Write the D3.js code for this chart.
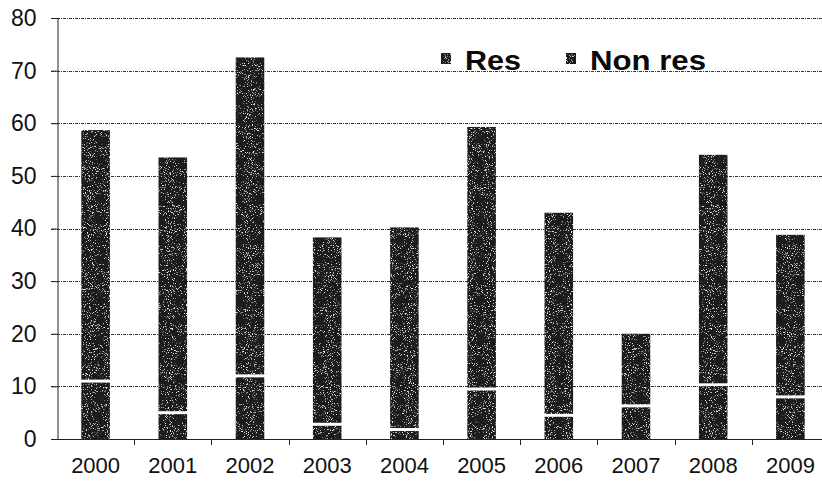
<!DOCTYPE html>
<html>
<head>
<meta charset="utf-8">
<script src="https://cdn.jsdelivr.net/npm/d3@7/dist/d3.min.js"></script>
<style>
  html, body { margin: 0; padding: 0; background: #fff; }
  svg { display: block; font-family: "Liberation Sans", Arial, sans-serif; }
</style>
</head>
<body>
<svg id="chart" width="822" height="492"></svg>
<script>
// Yearly counts, split into residential and non-residential
const years = ["2000", "2001", "2002", "2003", "2004", "2005", "2006", "2007", "2008", "2009"];
const res    = [11.0, 5.0, 12.0, 2.8, 1.8, 9.5, 4.5, 6.3, 10.3, 8.0];
const nonRes = [47.7, 48.5, 60.5, 35.5, 38.4, 49.8, 38.5, 13.7, 43.7, 30.8];
const seriesNames = ["Res", "Non res"];
const yTicks = [0, 10, 20, 30, 40, 50, 60, 70, 80];

const W = 822, H = 492;
const m = { left: 57, top: 18, bottom: 53 };
const svg = d3.select("#chart");

// Speckled dark fill for the bars
const defs = svg.append("defs");
const f = defs.append("filter").attr("id", "grain")
  .attr("x", 0).attr("y", 0).attr("width", 1).attr("height", 1);
f.append("feTurbulence").attr("type", "fractalNoise")
  .attr("baseFrequency", 0.95).attr("numOctaves", 2).attr("seed", 7).attr("result", "noise");
f.append("feColorMatrix").attr("in", "noise").attr("type", "matrix")
  .attr("values", "0 0 0 0 0.85  0 0 0 0 0.85  0 0 0 0 0.85  7 0 0 0 -4.25").attr("result", "specks");
f.append("feComposite").attr("in", "specks").attr("in2", "SourceGraphic").attr("operator", "atop");

const x = d3.scaleBand().domain(years).range([m.left, m.left + 772]).paddingInner(0.63).paddingOuter(0.315);
const y = d3.scaleLinear().domain([0, 80]).range([H - m.bottom, m.top]);

// Dotted horizontal gridlines
svg.append("g").selectAll("line").data(yTicks).join("line")
  .attr("x1", m.left - 6).attr("x2", W)
  .attr("y1", d => Math.round(y(d)) + 0.5).attr("y2", d => Math.round(y(d)) + 0.5)
  .attr("stroke", "#333").attr("stroke-width", 1)
  .attr("stroke-dasharray", "3,1,1,1");

// Stacked bars: Res at the bottom, Non res on top, split by a thin white gap
const stack = d3.stack().keys([0, 1]).value((d, k) => d[k]);
const rows = years.map((yr, i) => Object.assign([res[i], nonRes[i]], { year: yr }));
const layers = stack(rows);
const gap = 1.5;

svg.append("g").selectAll("g").data(layers).join("g")
  .selectAll("rect").data(d => d.map(s => ({ s, key: d.key }))).join("rect")
  .attr("x", d => x(d.s.data.year))
  .attr("width", x.bandwidth())
  .attr("y", d => y(d.s[1]) + (d.key === 0 ? gap : 0))
  .attr("height", d => y(d.s[0]) - y(d.s[1]) - gap)
  .attr("fill", "#1a1a1a")
  .attr("filter", "url(#grain)");

// Y axis
const yAxis = d3.axisLeft(y).tickValues(yTicks).tickSize(6).tickPadding(15);
const gy = svg.append("g").attr("transform", `translate(${m.left + 0.5},0)`).call(yAxis);
gy.select(".domain").attr("stroke", "#222");
gy.selectAll(".tick line").attr("stroke", "#222");
gy.selectAll("text").attr("font-size", 23).attr("fill", "#111");

// X axis
const xAxis = d3.axisBottom(x).tickSize(0).tickPadding(18);
const gx = svg.append("g").attr("transform", `translate(0,${Math.round(y(0)) + 0.5})`).call(xAxis);
gx.select(".domain").attr("stroke", "#222").attr("d", `M${m.left},0H${W}`);
gx.selectAll("text").attr("font-size", 22).attr("fill", "#111");
// tick marks between categories
svg.append("g").selectAll("line").data(years.slice(1)).join("line")
  .attr("x1", d => Math.round(x(d) - x.step() * x.paddingInner() / 2) + 0.5)
  .attr("x2", d => Math.round(x(d) - x.step() * x.paddingInner() / 2) + 0.5)
  .attr("y1", y(0)).attr("y2", y(0) + 6)
  .attr("stroke", "#222");

// Legend
const legend = svg.append("g");
const legendX = [441, 566];
const legendW = [56, 116];
seriesNames.forEach((name, i) => {
  legend.append("rect")
    .attr("x", legendX[i]).attr("y", 53).attr("width", 10).attr("height", 11)
    .attr("fill", "#1a1a1a").attr("filter", "url(#grain)");
  legend.append("text")
    .attr("x", legendX[i] + 24).attr("y", 70)
    .attr("font-size", 27).attr("font-weight", "bold").attr("fill", "#0a0a0a")
    .attr("textLength", legendW[i]).attr("lengthAdjust", "spacingAndGlyphs")
    .text(name);
});
</script>
</body>
</html>
